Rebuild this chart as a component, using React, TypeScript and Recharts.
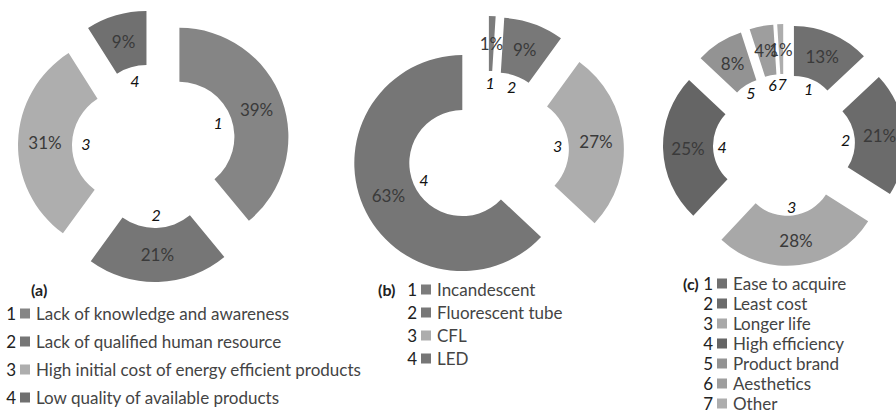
import React from 'react';
import { PieChart, Pie, Cell, Legend } from 'recharts';

// ---------- data ----------
const categoriesA = [
  'Lack of knowledge and awareness',
  'Lack of qualified human resource',
  'High initial cost of energy efficient products',
  'Low quality of available products',
];
const valuesA = [39, 21, 31, 9];
const colorsA = ['#858585', '#767676', '#aeaeae', '#707070'];

const categoriesB = ['Incandescent', 'Fluorescent tube', 'CFL', 'LED'];
const valuesB = [1, 9, 27, 63];
const colorsB = ['#7c7c7c', '#787878', '#adadad', '#767676'];

const categoriesC = [
  'Ease to acquire',
  'Least cost',
  'Longer life',
  'High efficiency',
  'Product brand',
  'Aesthetics',
  'Other',
];
const valuesC = [13, 21, 28, 25, 8, 4, 1];
const colorsC = ['#707070', '#6b6b6b', '#a8a8a8', '#656565', '#939393', '#9e9e9e', '#adadad'];

const FONT = 'Lato, "Open Sans", sans-serif';

type LegendCfg = {
  title: string;
  titleX: number;
  titleY: number;
  rowY0: number;
  rowGap: number;
  textX: number;
};

type DonutProps = {
  left: number;
  width: number;
  height: number;
  cx: number;
  cy: number;
  inner: number;
  outer: number;
  explode: number;
  numFrac: number;
  categories: string[];
  values: number[];
  colors: string[];
  legend: LegendCfg;
};

const ExplodedDonut = (props: DonutProps) => {
  const { left, width, height, cx, cy, inner, outer, explode, numFrac, categories, values, colors, legend } = props;
  const data = categories.map((name, i) => ({ name, value: values[i] }));
  const total = values.reduce((a, b) => a + b, 0);
  let cum = 0;
  const mids = values.map((v) => {
    const m = ((cum + v / 2) / total) * 360;
    cum += v;
    return m;
  });
  const RAD = Math.PI / 180;

  const renderLabel = (i: number) => (p: any) => {
    if (p.index !== i) return <g />;
    const mr = (p.innerRadius + p.outerRadius) / 2;
    const px = p.cx + mr * Math.cos(-p.midAngle * RAD);
    const py = p.cy + mr * Math.sin(-p.midAngle * RAD);
    const nr = p.innerRadius * numFrac;
    const nx = p.cx + nr * Math.cos(-p.midAngle * RAD);
    const ny = p.cy + nr * Math.sin(-p.midAngle * RAD);
    return (
      <g>
        <text x={px} y={py} textAnchor="middle" dominantBaseline="central" fill="#3a3a3a" fontSize={17} fontFamily={FONT}>
          {`${p.value}%`}
        </text>
        <text x={nx} y={ny} textAnchor="middle" dominantBaseline="central" fill="#111" fontSize={16} fontStyle="italic" fontFamily={FONT}>
          {p.index + 1}
        </text>
      </g>
    );
  };

  const legendContent = () => (
    <svg width={width} height={height} style={{ display: 'block' }}>
      <text x={legend.titleX - left} y={legend.titleY} dominantBaseline="central" fontWeight="bold" fontSize={16} fill="#222" fontFamily={FONT}>
        {legend.title}
      </text>
      {categories.map((c, i) => {
        const y = legend.rowY0 + i * legend.rowGap;
        const tx = legend.textX - left;
        return (
          <g key={c}>
            <text x={tx - 20} y={y} textAnchor="end" dominantBaseline="central" fontSize={17} fill="#222" fontFamily={FONT}>
              {i + 1}
            </text>
            <rect x={tx - 16} y={y - 4.5} width={10} height={10} fill={colors[i]} />
            <text x={tx} y={y} dominantBaseline="central" fontSize={17} fill="#444" fontFamily={FONT}>
              {c}
            </text>
          </g>
        );
      })}
    </svg>
  );

  return (
    <div style={{ position: 'absolute', left, top: 0, width, height }}>
      <PieChart width={width} height={height} margin={{ top: 0, right: 0, bottom: 0, left: 0 }}>
        {values.map((_, i) => {
          const pcx = cx - left + explode * Math.sin(mids[i] * RAD);
          const pcy = cy - explode * Math.cos(mids[i] * RAD);
          return (
            <Pie
              key={i}
              data={data}
              dataKey="value"
              nameKey="name"
              cx={pcx}
              cy={pcy}
              innerRadius={inner}
              outerRadius={outer}
              startAngle={90}
              endAngle={-270}
              stroke="none"
              isAnimationActive={false}
              labelLine={false}
              label={renderLabel(i)}
            >
              {data.map((_, j) => (
                <Cell key={j} fill={j === i ? colors[j] : 'transparent'} stroke="none" />
              ))}
            </Pie>
          );
        })}
        <Legend
          content={legendContent}
          wrapperStyle={{ left: 0, top: 0, bottom: 'auto', width, height, pointerEvents: 'none' }}
        />
      </PieChart>
    </div>
  );
};

export default function App() {
  return (
    <div style={{ position: 'relative', width: 896, height: 412, overflow: 'hidden', background: '#fff' }}>
      <style>{'body{margin:0;}'}</style>
      <ExplodedDonut
        left={0}
        width={380}
        height={412}
        cx={154}
        cy={146}
        inner={55}
        outer={109}
        explode={27}
        numFrac={0.75}
        categories={categoriesA}
        values={valuesA}
        colors={colorsA}
        legend={{ title: '(a)', titleX: 31, titleY: 289, rowY0: 313, rowGap: 28, textX: 36 }}
      />
      <ExplodedDonut
        left={340}
        width={300}
        height={412}
        cx={488}
        cy={152}
        inner={53}
        outer={108}
        explode={28}
        numFrac={0.79}
        categories={categoriesB}
        values={valuesB}
        colors={colorsB}
        legend={{ title: '(b)', titleX: 378, titleY: 289, rowY0: 289, rowGap: 23, textX: 437 }}
      />
      <ExplodedDonut
        left={640}
        width={256}
        height={412}
        cx={784}
        cy={145}
        inner={46}
        outer={96}
        explode={25}
        numFrac={0.8}
        categories={categoriesC}
        values={valuesC}
        colors={colorsC}
        legend={{ title: '(c)', titleX: 683, titleY: 283, rowY0: 283, rowGap: 20, textX: 733 }}
      />
    </div>
  );
}
